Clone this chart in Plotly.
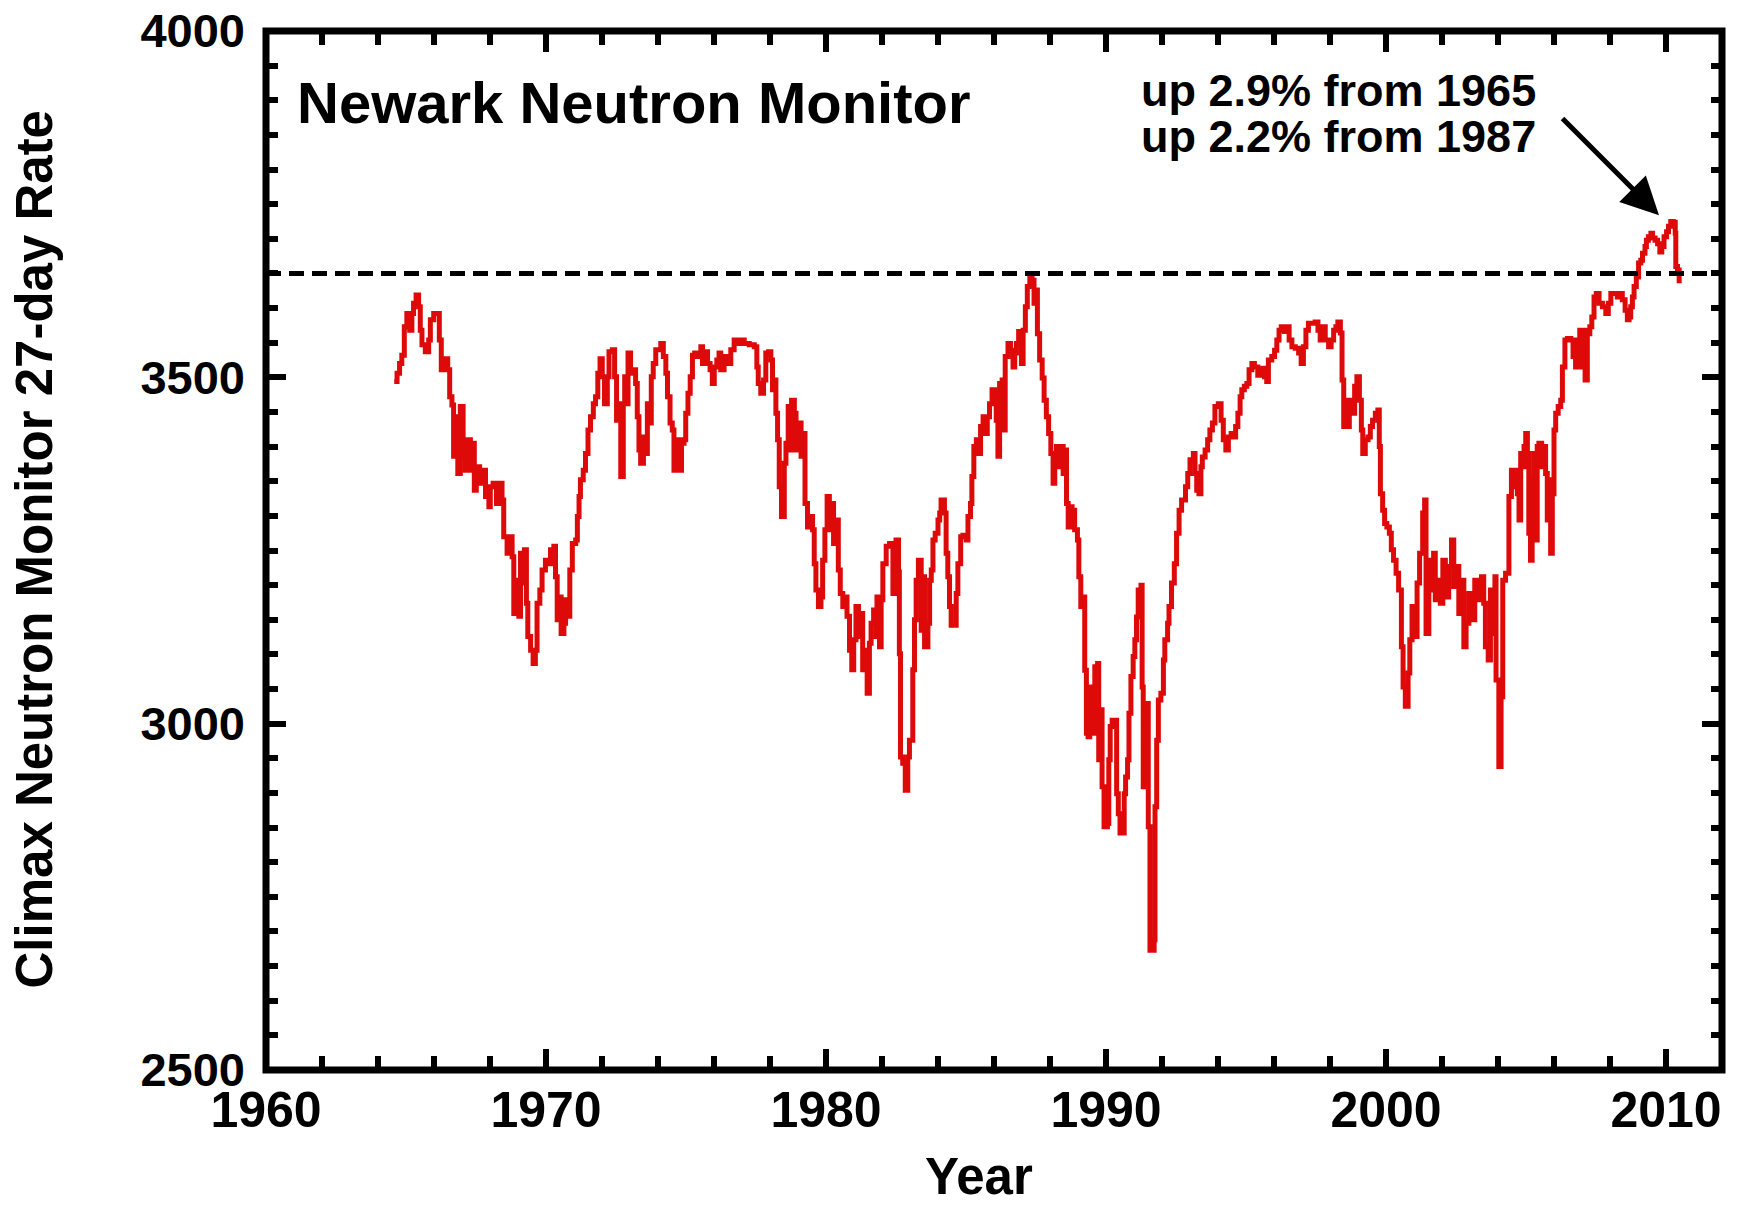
import plotly.graph_objects as go

# ---------------------------------------------------------------------------
# Newark neutron monitor, 27-day averaged counting rate (Climax-scaled)
# Values are grouped by solar cycle segment: decimal year / counting rate.
# ---------------------------------------------------------------------------
YEARS_1964_1982 = [
    1964.58, 1964.68, 1964.77, 1964.85, 1964.94, 1965.03, 1965.13, 1965.21, 1965.27, 1965.36,
    1965.45, 1965.51, 1965.57, 1965.69, 1965.81, 1965.87, 1965.99, 1966.11, 1966.19, 1966.26,
    1966.37, 1966.49, 1966.56, 1966.64, 1966.70, 1966.77, 1966.85, 1966.94, 1967.04, 1967.12,
    1967.20, 1967.30, 1967.36, 1967.44, 1967.51, 1967.63, 1967.75, 1967.84, 1967.96, 1968.01,
    1968.11, 1968.23, 1968.31, 1968.43, 1968.49, 1968.61, 1968.71, 1968.79, 1968.85, 1968.94,
    1969.03, 1969.09, 1969.18, 1969.23, 1969.30, 1969.35, 1969.45, 1969.54, 1969.62, 1969.68,
    1969.78, 1969.86, 1969.98, 1970.10, 1970.16, 1970.28, 1970.34, 1970.40, 1970.50, 1970.54,
    1970.64, 1970.70, 1970.78, 1970.85, 1970.94, 1971.06, 1971.12, 1971.18, 1971.23, 1971.33,
    1971.41, 1971.50, 1971.59, 1971.69, 1971.77, 1971.85, 1971.93, 1972.01, 1972.09, 1972.19,
    1972.25, 1972.37, 1972.45, 1972.52, 1972.61, 1972.67, 1972.76, 1972.81, 1972.88, 1972.93,
    1973.02, 1973.12, 1973.20, 1973.26, 1973.32, 1973.38, 1973.48, 1973.56, 1973.62, 1973.71,
    1973.76, 1973.83, 1973.92, 1974.00, 1974.10, 1974.19, 1974.28, 1974.34, 1974.43, 1974.51,
    1974.57, 1974.67, 1974.75, 1974.84, 1974.93, 1974.99, 1975.07, 1975.15, 1975.23, 1975.31,
    1975.41, 1975.53, 1975.59, 1975.67, 1975.77, 1975.86, 1975.94, 1976.01, 1976.10, 1976.18,
    1976.24, 1976.36, 1976.48, 1976.60, 1976.72, 1976.82, 1976.94, 1977.08, 1977.26, 1977.44,
    1977.53, 1977.58, 1977.67, 1977.77, 1977.85, 1977.95, 1978.03, 1978.09, 1978.15, 1978.21,
    1978.27, 1978.33, 1978.41, 1978.51, 1978.57, 1978.65, 1978.72, 1978.77, 1978.87, 1978.93,
    1979.01, 1979.11, 1979.20, 1979.25, 1979.34, 1979.44, 1979.52, 1979.58, 1979.64, 1979.73,
    1979.82, 1979.88, 1979.96, 1980.04, 1980.12, 1980.18, 1980.27, 1980.36, 1980.44, 1980.51,
    1980.60, 1980.66, 1980.75, 1980.84, 1980.92, 1980.99, 1981.07, 1981.16, 1981.23, 1981.31,
    1981.39, 1981.47, 1981.55, 1981.61, 1981.70, 1981.79, 1981.82, 1981.91, 1981.97, 1982.03,
    1982.15, 1982.27,
]
RATES_1964_1982 = [
    3494, 3506, 3520, 3532, 3573, 3592, 3568, 3592, 3607, 3619,
    3602, 3568, 3547, 3537, 3554, 3583, 3592, 3592, 3554, 3511,
    3527, 3511, 3472, 3460, 3386, 3443, 3361, 3458, 3386, 3366,
    3410, 3366, 3405, 3337, 3371, 3347, 3366, 3328, 3313, 3342,
    3347, 3318, 3347, 3323, 3270, 3246, 3270, 3241, 3159, 3207,
    3155, 3246, 3203, 3251, 3174, 3126, 3106, 3087, 3106, 3174,
    3193, 3222, 3236, 3231, 3251, 3256, 3212, 3150, 3183, 3130,
    3145, 3179, 3155, 3222, 3260, 3265, 3299, 3328, 3352, 3366,
    3390, 3424, 3443, 3462, 3472, 3506, 3527, 3501, 3462, 3501,
    3537, 3540, 3501, 3438, 3462, 3357, 3462, 3501, 3462, 3535,
    3506, 3511, 3491, 3443, 3395, 3376, 3414, 3390, 3462, 3434,
    3501, 3520, 3540, 3540, 3549, 3530, 3506, 3472, 3434, 3424,
    3366, 3410, 3366, 3405, 3410, 3448, 3477, 3501, 3532, 3535,
    3530, 3544, 3520, 3537, 3520, 3511, 3491, 3515, 3525, 3535,
    3511, 3530, 3520, 3540, 3554, 3549, 3554, 3549, 3547, 3544,
    3515, 3491, 3477, 3496, 3535, 3537, 3525, 3482, 3496, 3448,
    3410, 3342, 3299, 3376, 3405, 3458, 3395, 3467, 3448, 3395,
    3434, 3386, 3419, 3318, 3284, 3299, 3280, 3231, 3193, 3169,
    3183, 3236, 3280, 3328, 3280, 3318, 3260, 3294, 3222, 3188,
    3169, 3183, 3155, 3106, 3078, 3121, 3169, 3126, 3159, 3078,
    3106, 3044, 3116, 3145, 3164, 3126, 3183, 3111, 3179, 3231,
    3256, 3260,
]

YEARS_1982_2000 = [
    1982.39, 1982.50, 1982.59, 1982.62, 1982.66, 1982.74, 1982.83, 1982.92, 1982.98, 1983.10,
    1983.16, 1983.22, 1983.30, 1983.40, 1983.46, 1983.52, 1983.64, 1983.70, 1983.76, 1983.82,
    1983.90, 1984.00, 1984.06, 1984.11, 1984.23, 1984.29, 1984.35, 1984.41, 1984.47, 1984.57,
    1984.65, 1984.71, 1984.81, 1984.89, 1985.01, 1985.07, 1985.16, 1985.21, 1985.28, 1985.37,
    1985.43, 1985.52, 1985.61, 1985.69, 1985.76, 1985.84, 1985.93, 1986.02, 1986.08, 1986.14,
    1986.20, 1986.29, 1986.36, 1986.40, 1986.50, 1986.59, 1986.68, 1986.74, 1986.80, 1986.88,
    1986.98, 1987.04, 1987.12, 1987.19, 1987.28, 1987.36, 1987.43, 1987.48, 1987.55, 1987.63,
    1987.72, 1987.79, 1987.87, 1987.95, 1988.03, 1988.11, 1988.17, 1988.23, 1988.31, 1988.38,
    1988.47, 1988.53, 1988.59, 1988.65, 1988.71, 1988.79, 1988.88, 1988.98, 1989.03, 1989.10,
    1989.18, 1989.24, 1989.30, 1989.36, 1989.42, 1989.50, 1989.60, 1989.70, 1989.74, 1989.84,
    1989.86, 1989.93, 1990.05, 1990.10, 1990.15, 1990.22, 1990.32, 1990.38, 1990.44, 1990.50,
    1990.58, 1990.65, 1990.70, 1990.77, 1990.82, 1990.89, 1990.97, 1991.03, 1991.09, 1991.15,
    1991.25, 1991.29, 1991.33, 1991.41, 1991.48, 1991.51, 1991.57, 1991.65, 1991.72, 1991.75,
    1991.81, 1991.87, 1991.96, 1992.05, 1992.10, 1992.20, 1992.25, 1992.34, 1992.44, 1992.52,
    1992.61, 1992.70, 1992.84, 1992.92, 1993.00, 1993.12, 1993.18, 1993.24, 1993.32, 1993.39,
    1993.44, 1993.54, 1993.63, 1993.71, 1993.80, 1993.89, 1994.01, 1994.11, 1994.19, 1994.28,
    1994.37, 1994.47, 1994.55, 1994.63, 1994.71, 1994.79, 1994.85, 1994.94, 1995.03, 1995.11,
    1995.21, 1995.30, 1995.42, 1995.54, 1995.66, 1995.74, 1995.80, 1995.92, 1996.02, 1996.10,
    1996.18, 1996.26, 1996.37, 1996.46, 1996.54, 1996.64, 1996.76, 1996.88, 1996.97, 1997.05,
    1997.14, 1997.23, 1997.35, 1997.47, 1997.57, 1997.65, 1997.73, 1997.83, 1997.95, 1998.04,
    1998.13, 1998.21, 1998.28, 1998.37, 1998.43, 1998.49, 1998.57, 1998.64, 1998.69, 1998.78,
    1998.88, 1998.96, 1999.05, 1999.12, 1999.17, 1999.26, 1999.36, 1999.44, 1999.52, 1999.62,
    1999.71, 1999.76, 1999.80,
]
RATES_1982_2000 = [
    3188, 3265, 3219, 3101, 2952, 2943, 2904, 2952, 2976, 3078,
    3150, 3207, 3236, 3135, 3212, 3111, 3145, 3207, 3222, 3265,
    3275, 3294, 3304, 3323, 3304, 3246, 3212, 3169, 3142, 3142,
    3188, 3231, 3270, 3272, 3265, 3299, 3318, 3357, 3400, 3410,
    3390, 3429, 3443, 3419, 3443, 3462, 3482, 3477, 3438, 3386,
    3491, 3496, 3424, 3530, 3549, 3539, 3515, 3535, 3549, 3566,
    3520, 3568, 3602, 3631, 3645, 3640, 3607, 3626, 3563, 3525,
    3499, 3467, 3443, 3419, 3390, 3347, 3371, 3400, 3371, 3400,
    3361, 3395, 3318, 3284, 3313, 3308, 3280, 3265, 3212, 3169,
    3183, 3077, 2986, 2981, 3053, 2986, 3082, 3087, 2948, 3020,
    2909, 2851, 2856, 2948, 2996, 3005, 3005, 2899, 2870, 2842,
    2842, 2899, 2923, 2948, 3015, 3068, 3097, 3121, 3154, 3193,
    3200, 3053, 2909, 2909, 3029, 2851, 2673, 2673, 2688, 2880,
    2976, 3034, 3044, 3092, 3121, 3145, 3169, 3203, 3231, 3275,
    3308, 3323, 3342, 3361, 3381, 3390, 3361, 3337, 3332, 3371,
    3385, 3395, 3410, 3424, 3434, 3458, 3462, 3438, 3410, 3395,
    3414, 3419, 3414, 3429, 3448, 3472, 3482, 3487, 3491, 3511,
    3520, 3515, 3503, 3513, 3501, 3494, 3525, 3530, 3539, 3554,
    3568, 3573, 3566, 3573, 3554, 3544, 3542, 3535, 3520, 3544,
    3568, 3578, 3578, 3580, 3568, 3554, 3573, 3554, 3544, 3554,
    3568, 3573, 3580, 3564, 3496, 3429, 3467, 3429, 3467, 3448,
    3487, 3501, 3467, 3424, 3390, 3410, 3414, 3429, 3438, 3448,
    3453, 3400, 3332,
]

YEARS_2000_2004 = [
    1999.88, 1999.95, 2000.03, 2000.12, 2000.19, 2000.27, 2000.36, 2000.45, 2000.55, 2000.61,
    2000.69, 2000.79, 2000.85, 2000.93, 2001.03, 2001.11, 2001.20, 2001.31, 2001.38, 2001.43,
    2001.53, 2001.59, 2001.70, 2001.76, 2001.86, 2001.94, 2002.03, 2002.12, 2002.24, 2002.34,
    2002.42, 2002.50, 2002.60, 2002.69, 2002.78, 2002.86, 2002.96, 2003.08, 2003.17, 2003.31,
    2003.41, 2003.49, 2003.55, 2003.65, 2003.73, 2003.79, 2003.89, 2003.93, 2004.03, 2004.11,
    2004.17, 2004.27,
]
RATES_2000_2004 = [
    3308, 3289, 3284, 3275, 3251, 3236, 3217, 3193, 3111, 3053,
    3025, 3073, 3121, 3169, 3126, 3203, 3246, 3304, 3323, 3130,
    3193, 3236, 3246, 3179, 3207, 3174, 3236, 3183, 3227, 3265,
    3198, 3227, 3159, 3207, 3111, 3145, 3188, 3150, 3207, 3179,
    3212, 3174, 3111, 3092, 3193, 3130, 3212, 3063, 2938, 3039,
    3207, 3217,
]

YEARS_2004_2010 = [
    2004.39, 2004.48, 2004.57, 2004.63, 2004.69, 2004.75, 2004.81, 2004.87, 2004.93, 2004.99,
    2005.05, 2005.10, 2005.16, 2005.22, 2005.28, 2005.34, 2005.40, 2005.46, 2005.56, 2005.64,
    2005.70, 2005.76, 2005.82, 2005.88, 2005.94, 2006.00, 2006.06, 2006.15, 2006.24, 2006.30,
    2006.39, 2006.48, 2006.60, 2006.68, 2006.77, 2006.83, 2006.92, 2006.99, 2007.04, 2007.11,
    2007.19, 2007.28, 2007.35, 2007.43, 2007.51, 2007.61, 2007.73, 2007.85, 2007.94, 2008.03,
    2008.15, 2008.26, 2008.35, 2008.44, 2008.54, 2008.62, 2008.68, 2008.74, 2008.80, 2008.86,
    2008.94, 2009.02, 2009.10, 2009.16, 2009.25, 2009.30, 2009.37, 2009.46, 2009.52, 2009.61,
    2009.70, 2009.78, 2009.85, 2009.93, 2010.02, 2010.09, 2010.17, 2010.26, 2010.33, 2010.35,
    2010.41, 2010.47,
]
RATES_2004_2010 = [
    3328, 3366, 3342, 3366, 3332, 3294, 3390, 3371, 3400, 3419,
    3390, 3275, 3236, 3352, 3390, 3265, 3400, 3405, 3371, 3400,
    3361, 3294, 3352, 3246, 3332, 3424, 3448, 3458, 3467, 3515,
    3554, 3556, 3554, 3530, 3515, 3554, 3568, 3515, 3568, 3496,
    3563, 3573, 3587, 3616, 3621, 3607, 3602, 3592, 3607, 3621,
    3621, 3616, 3621, 3612, 3597, 3583, 3587, 3602, 3616, 3631,
    3645, 3665, 3669, 3679, 3689, 3698, 3703, 3708, 3701, 3698,
    3693, 3681, 3689, 3703, 3710, 3718, 3725, 3724, 3708, 3660,
    3655, 3636,
]

REFERENCE_LEVEL = 3650          # dashed horizontal reference
X_RANGE = [1960, 2012]
Y_RANGE = [2500, 4000]
X_TICKS = [1960, 1970, 1980, 1990, 2000, 2010]
Y_TICKS = [2500, 3000, 3500, 4000]
ARROW_TAIL = (2006.25, 3876)
ARROW_TIP = (2009.75, 3734)

# ---------------------------------------------------------------------------
years = YEARS_1964_1982 + YEARS_1982_2000 + YEARS_2000_2004 + YEARS_2004_2010
rates = RATES_1964_1982 + RATES_1982_2000 + RATES_2000_2004 + RATES_2004_2010

# percentage rise of the latest maximum over the earlier cycle maxima
latest_max = max(RATES_2004_2010)
max_1965 = max(r for y, r in zip(years, rates) if 1964 <= y < 1967)
max_1987 = max(r for y, r in zip(years, rates) if 1986 <= y < 1989)
rise_1965 = 100.0 * (latest_max / max_1965 - 1.0)
rise_1987 = 100.0 * (latest_max / max_1987 - 1.0)

FONT = "Liberation Sans, Arial, Helvetica, sans-serif"
RED = "#DE0A0A"

fig = go.Figure()
fig.add_trace(go.Scatter(
    x=years, y=rates, mode="lines",
    line=dict(color=RED, width=5, shape="hv"),
    showlegend=False, hoverinfo="skip",
))

L, R, T, B = 266, 17, 31, 137
W, H = 1739, 1207
PW, PH = W - L - R, H - T - B


def px_x(px):
    return (px - L) / PW


def px_y(py):
    return (H - B - py) / PH


fig.update_layout(
    template="none",
    width=W, height=H,
    margin=dict(l=L, r=R, t=T, b=B, pad=0, autoexpand=False),
    paper_bgcolor="white", plot_bgcolor="white",
    showlegend=False,
    font=dict(family=FONT, color="black"),
)

fig.update_xaxes(
    range=X_RANGE, tickmode="array", tickvals=X_TICKS,
    ticktext=[str(v) for v in X_TICKS], automargin=False,
    ticks="inside", ticklen=21, tickwidth=6, tickcolor="black",
    mirror="ticks", showline=False, showgrid=False, zeroline=False,
    tickfont=dict(family=FONT, size=50, color="black", weight="bold"),
    ticklabelstandoff=6,
    minor=dict(tickmode="linear", tick0=1960, dtick=2, ticks="inside",
               ticklen=14, tickwidth=6, tickcolor="black", showgrid=False),
)
fig.update_yaxes(
    range=Y_RANGE, tickmode="array", tickvals=Y_TICKS,
    ticktext=[str(v) for v in Y_TICKS], automargin=False,
    ticks="inside", ticklen=20, tickwidth=6, tickcolor="black",
    mirror="ticks", showline=False, showgrid=False, zeroline=False,
    tickfont=dict(family=FONT, size=47, color="black", weight="bold"),
    ticklabelstandoff=20,
    minor=dict(tickmode="linear", tick0=2500, dtick=50, ticks="inside",
               ticklen=11.5, tickwidth=6, tickcolor="black", showgrid=False),
)

# plot frame and dashed reference level
fig.add_shape(type="rect", xref="paper", yref="paper", x0=0, x1=1, y0=0, y1=1,
              line=dict(color="black", width=7), fillcolor="rgba(0,0,0,0)",
              layer="above")
fig.add_shape(type="line", xref="paper", yref="y", x0=0, x1=1,
              y0=REFERENCE_LEVEL, y1=REFERENCE_LEVEL,
              line=dict(color="black", width=5, dash="15px,8px"), layer="above")

bold = dict(family=FONT, color="black", weight="bold")

fig.add_annotation(text="Newark Neutron Monitor", xref="paper", yref="paper",
                   x=px_x(295), y=px_y(102.5), xanchor="left", yanchor="middle",
                   showarrow=False, font=dict(size=58, **bold))
fig.add_annotation(text=f"up {rise_1965:.1f}% from 1965", xref="paper", yref="paper",
                   x=px_x(1139), y=px_y(90), xanchor="left", yanchor="middle",
                   showarrow=False, font=dict(size=45, **bold))
fig.add_annotation(text=f"up {rise_1987:.1f}% from 1987", xref="paper", yref="paper",
                   x=px_x(1139), y=px_y(136.7), xanchor="left", yanchor="middle",
                   showarrow=False, font=dict(size=45, **bold))
fig.add_annotation(text="", x=ARROW_TIP[0], y=ARROW_TIP[1], xref="x", yref="y",
                   ax=ARROW_TAIL[0], ay=ARROW_TAIL[1], axref="x", ayref="y",
                   showarrow=True, arrowhead=2, arrowsize=1.5, arrowwidth=5,
                   arrowcolor="black", standoff=0, startstandoff=0)

# axis titles
fig.add_annotation(text="Year", xref="paper", yref="paper",
                   x=px_x(979), y=px_y(1176), xanchor="center", yanchor="middle",
                   showarrow=False, font=dict(size=51, **bold))
fig.add_annotation(text="Climax Neutron Monitor 27-day Rate", xref="paper", yref="paper",
                   x=px_x(33.5), y=px_y(550), xanchor="center", yanchor="middle",
                   textangle=-90, showarrow=False, font=dict(size=51, **bold))

fig.write_html("out.html")
